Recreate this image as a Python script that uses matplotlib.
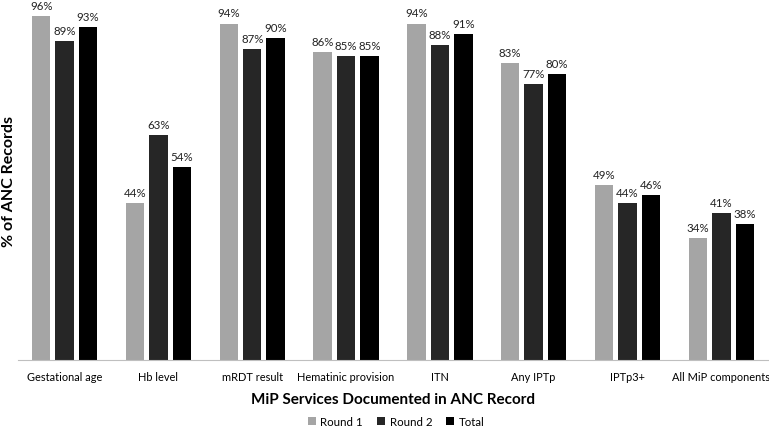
import matplotlib.pyplot as plt
import numpy as np

categories = ["Gestational age", "Hb level", "mRDT result", "Hematinic provision",
              "ITN", "Any IPTp", "IPTp3+", "All MiP components"]
round1 = [96, 44, 94, 86, 94, 83, 49, 34]
round2 = [89, 63, 87, 85, 88, 77, 44, 41]
total = [93, 54, 90, 85, 91, 80, 46, 38]

series = [("Round 1", round1, "#a5a5a5"),
          ("Round 2", round2, "#262626"),
          ("Total", total, "#000000")]

plt.rcParams['font.family'] = ['Lato', 'DejaVu Sans']

fig = plt.figure(figsize=(7.69, 4.31), dpi=100)
ax = fig.add_axes([0.023, 0.162, 0.976, 0.831])

x = np.arange(len(categories))
w = 0.197
offs = [-0.25, 0, 0.25]
for (name, vals, col), o in zip(series, offs):
    bars = ax.bar(x + o, vals, w, color=col, label=name)
    for b, v in zip(bars, vals):
        ax.text(b.get_x() + b.get_width() / 2, v + 1.4, f"{v}%",
                ha="center", va="bottom", fontsize=8.3, color="#222222")

ax.set_xlim(-0.5, len(categories) - 0.5)
ax.set_ylim(0, 100)
ax.set_xticks(x)
ax.set_xticklabels(categories, fontsize=7.9)
ax.tick_params(axis="x", length=0, pad=8)
ax.set_yticks([])
for s in ["top", "right", "left"]:
    ax.spines[s].set_visible(False)
ax.spines["bottom"].set_color("#bfbfbf")

ax.set_xlabel("MiP Services Documented in ANC Record", fontsize=11,
              fontweight="bold", labelpad=7)
fig.text(0.012, 0.58, "% of ANC Records", rotation=90, ha="center", va="center",
         fontsize=11.5, fontweight="bold")

fig.legend(loc="center", bbox_to_anchor=(0.515, 0.02), ncol=3, frameon=False,
           fontsize=8.3, handlelength=0.7, handleheight=0.7, handletextpad=0.4,
           columnspacing=1.2)

fig.savefig("out.png", dpi=100)
